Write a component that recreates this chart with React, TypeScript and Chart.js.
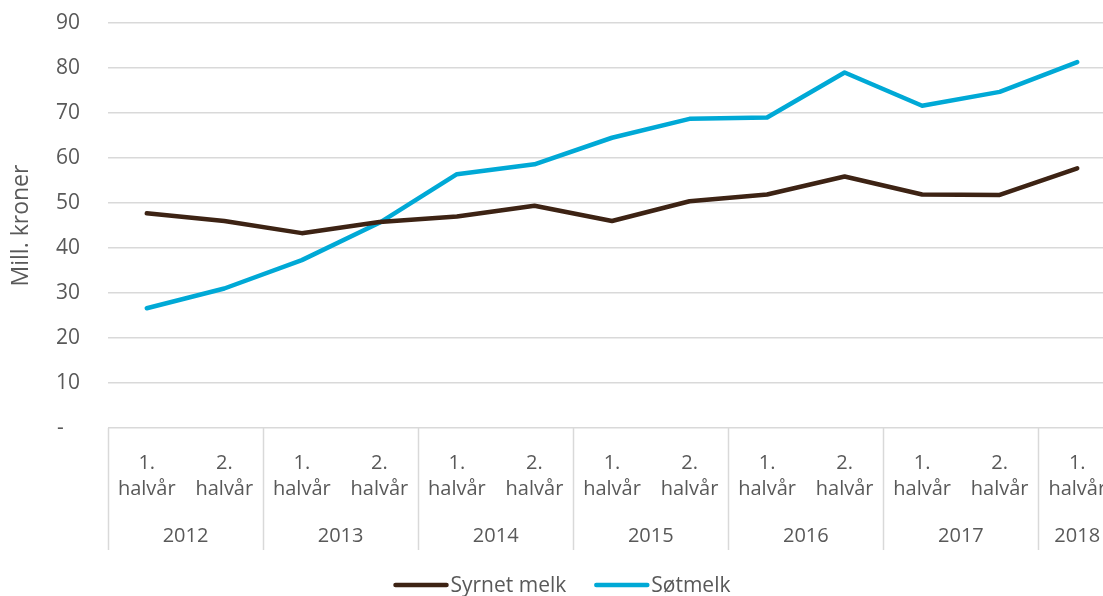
import React, { useEffect, useRef } from "react";
import { Chart, registerables } from "chart.js";

Chart.register(...registerables);

const halfYears = [
  "1. halvår", "2. halvår", "1. halvår", "2. halvår", "1. halvår", "2. halvår",
  "1. halvår", "2. halvår", "1. halvår", "2. halvår", "1. halvår", "2. halvår", "1. halvår",
];
const years = [
  "2012", "2012", "2013", "2013", "2014", "2014", "2015", "2015", "2016", "2016", "2017", "2017", "2018",
];
const syrnetMelk = [47.7, 46.0, 43.3, 45.8, 47.0, 49.4, 46.0, 50.4, 51.9, 55.9, 51.9, 51.8, 57.7];
const sotmelk = [26.6, 31.0, 37.3, 45.6, 56.4, 58.6, 64.5, 68.7, 69.0, 79.0, 71.6, 74.7, 81.3];
const seriesNames = ["Syrnet melk", "Søtmelk"];
const yMin = 0;
const yMax = 90;
const yStep = 10;
const yTitle = "Mill. kroner";

const TEXT = "#595959";
const GRID = "#d9d9d9";
const FONT = '"Open Sans", sans-serif';
const COLORS = ["#3d2314", "#00a9d6"];

const multiAxisPlugin = {
  id: "multiAxis",
  afterDraw(chart: any) {
    const ctx = chart.ctx;
    const xs = chart.scales.x;
    const area = chart.chartArea;
    const step = xs.getPixelForValue(1) - xs.getPixelForValue(0);
    ctx.save();
    ctx.fillStyle = TEXT;
    ctx.textAlign = "center";
    ctx.textBaseline = "alphabetic";
    ctx.font = `20px ${FONT}`;
    halfYears.forEach((lab, i) => {
      const px = xs.getPixelForValue(i);
      const parts = lab.split(" ");
      ctx.fillText(parts[0], px, area.bottom + 40.5);
      ctx.fillText(parts[1], px, area.bottom + 67);
    });
    ctx.strokeStyle = GRID;
    ctx.lineWidth = 1.5;
    ctx.font = `20px ${FONT}`;
    let start = 0;
    for (let i = 1; i <= years.length; i++) {
      if (i === years.length || years[i] !== years[start]) {
        const x0 = xs.getPixelForValue(start) - step / 2;
        const x1 = xs.getPixelForValue(i - 1) + step / 2;
        ctx.fillText(years[start], (x0 + x1) / 2, area.bottom + 114);
        ctx.beginPath();
        ctx.moveTo(Math.round(x0) + 0.5, area.bottom);
        ctx.lineTo(Math.round(x0) + 0.5, area.bottom + 122);
        ctx.stroke();
        if (i === years.length) {
          ctx.beginPath();
          ctx.moveTo(Math.round(x1) - 0.5, area.bottom);
          ctx.lineTo(Math.round(x1) - 0.5, area.bottom + 122);
          ctx.stroke();
        }
        start = i;
      }
    }

    // legend
    ctx.font = `21px ${FONT}`;
    ctx.textAlign = "left";
    const lineLen = 55;
    const gap = 2;
    const itemGap = 28;
    const ds = chart.data.datasets;
    const widths = ds.map((d: any) => lineLen + gap + ctx.measureText(d.label).width);
    const total = widths.reduce((a: number, b: number) => a + b, 0) + itemGap * (ds.length - 1);
    let lx = chart.width / 2 + 4 - total / 2;
    const ly = 585;
    ds.forEach((d: any, i: number) => {
      ctx.strokeStyle = d.borderColor;
      ctx.lineWidth = 4.5;
      ctx.lineCap = "round";
      ctx.beginPath();
      ctx.moveTo(lx + 2, ly);
      ctx.lineTo(lx + lineLen - 2, ly);
      ctx.stroke();
      ctx.fillStyle = TEXT;
      ctx.fillText(d.label, lx + lineLen + gap, 592);
      lx += widths[i] + itemGap;
    });
    ctx.restore();
  },
};

export default function App() {
  const ref = useRef<HTMLCanvasElement | null>(null);
  useEffect(() => {
    if (!ref.current) return;
    const chart = new Chart(ref.current, {
      type: "line",
      data: {
        labels: halfYears.map((h, i) => `${h} ${years[i]}`),
        datasets: [
          {
            label: seriesNames[0],
            data: syrnetMelk,
            borderColor: COLORS[0],
            backgroundColor: COLORS[0],
            borderWidth: 4.5,
            pointRadius: 0,
            tension: 0,
            borderCapStyle: "round",
            borderJoinStyle: "round",
          },
          {
            label: seriesNames[1],
            data: sotmelk,
            borderColor: COLORS[1],
            backgroundColor: COLORS[1],
            borderWidth: 4.5,
            pointRadius: 0,
            tension: 0,
            borderCapStyle: "round",
            borderJoinStyle: "round",
          },
        ],
      },
      options: {
        responsive: false,
        animation: false,
        layout: { padding: { top: 23, bottom: 46, left: 0, right: 0 } },
        plugins: {
          legend: { display: false },
          tooltip: { enabled: false },
        },
        scales: {
          x: {
            type: "category",
            offset: true,
            grid: { display: false },
            border: { display: false },
            ticks: { display: false },
            afterFit: (s: any) => {
              s.height = 122;
            },
          },
          y: {
            min: yMin,
            max: yMax,
            grid: { color: GRID, lineWidth: 1.5, drawTicks: false },
            border: { display: false },
            ticks: {
              stepSize: yStep,
              padding: 28,
              color: TEXT,
              font: { family: FONT, size: 21 },
              callback: (v: any) => (v === 0 ? "-   " : String(v)),
            },
            title: {
              display: true,
              text: yTitle,
              color: TEXT,
              font: { family: FONT, size: 23 },
              padding: { top: 8, bottom: 0 },
            },
            afterFit: (s: any) => {
              s.width = 108;
              s.paddingTop = 0;
              s.paddingBottom = 0;
            },
          },
        },
      },
      plugins: [multiAxisPlugin],
    });
    return () => chart.destroy();
  }, []);
  return (
    <div style={{ position: "fixed", left: 0, top: 0, width: 1103, height: 596, overflow: "hidden", background: "#fff" }}>
      <canvas ref={ref} width={1116} height={596} style={{ display: "block" }} />
    </div>
  );
}
